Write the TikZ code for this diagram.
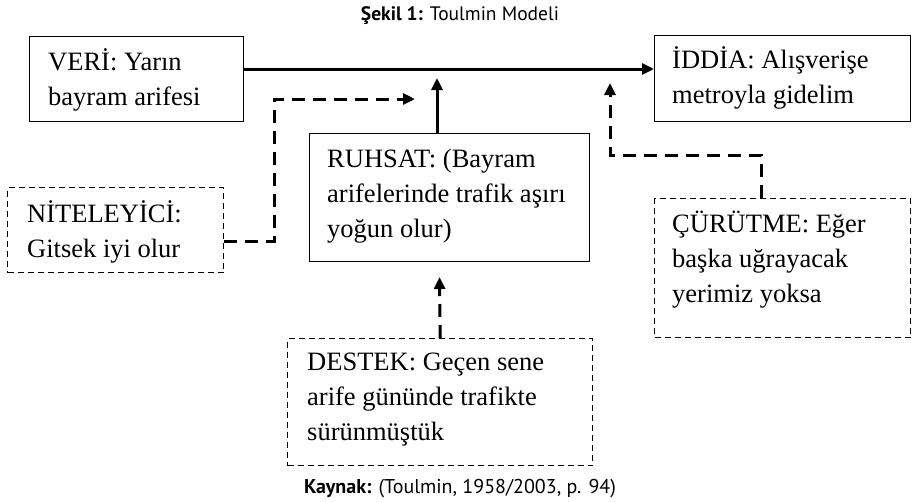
\documentclass[tikz,border=0pt]{standalone}
\usepackage{fontspec}
\setmainfont{Liberation Serif}
\newfontfamily\capfont{PT Sans}
\usetikzlibrary{arrows.meta}
\begin{document}
\begin{tikzpicture}[x=1pt,y=-1pt,
  box/.style={draw, line width=1.4pt, rectangle, inner sep=0pt, anchor=north west},
  dbox/.style={box, line width=1.3pt, dash pattern=on 6pt off 4pt},
  txt/.style={anchor=base west, inner sep=0pt, font=\fontsize{26.5}{35}\selectfont},
  tip/.style={-{Triangle[length=12pt,width=11pt]}},
  solidarrow/.style={line width=3pt, tip},
  dasharrow/.style={line width=3pt, dash pattern=on 13pt off 8pt, tip},
  captext/.style={inner sep=0pt, anchor=base, font=\capfont}
]
\useasboundingbox (0,0) rectangle (912,501);

% title and source
\node[captext, font=\capfont\fontsize{19.5}{23}\selectfont] (title) at (460,20) {\textbf{Şekil 1:} Toulmin Modeli};
\node[captext, font=\capfont\fontsize{20}{24}\selectfont] (source) at (460,493) {\textbf{Kaynak:} (Toulmin, 1958/2003, p. 94)};

% boxes
\node[box,  minimum width=214pt, minimum height=85pt]  (veri)   at (29,36)  {};
\node[box,  minimum width=256pt, minimum height=86pt]  (iddia)  at (654,35) {};
\node[box,  minimum width=280pt, minimum height=128pt] (ruhsat) at (309,133) {};
\node[dbox, minimum width=216pt, minimum height=85pt]  (nit)    at (7,187)  {};
\node[dbox, minimum width=256pt, minimum height=139pt] (curr)   at (654,198) {};
\node[dbox, minimum width=305pt, minimum height=127pt] (destek) at (287,338) {};

% texts
\node[txt] (tveri)   at ([shift={(19,34)}]veri.north west)   {\vtop{\hbox{VERİ: Yarın}\hbox{bayram arifesi}}};
\node[txt] (tiddia)  at ([shift={(18,33)}]iddia.north west)  {\vtop{\hbox{İDDİA: Alışverişe}\hbox{metroyla gidelim}}};
\node[txt] (truhsat) at ([shift={(18,34)}]ruhsat.north west) {\vtop{\hbox{RUHSAT: (Bayram}\hbox{arifelerinde trafik aşırı}\hbox{yoğun olur)}}};
\node[txt] (tnit)    at ([shift={(20,35)}]nit.north west)    {\vtop{\hbox{NİTELEYİCİ:}\hbox{Gitsek iyi olur}}};
\node[txt] (tcurr)   at ([shift={(18,34)}]curr.north west)   {\vtop{\hbox{ÇÜRÜTME: Eğer}\hbox{başka uğrayacak}\hbox{yerimiz yoksa}}};
\node[txt] (tdestek) at ([shift={(20,32)}]destek.north west) {\vtop{\hbox{DESTEK: Geçen sene}\hbox{arife gününde trafikte}\hbox{sürünmüştük}}};

% connector coordinates
\coordinate (main) at (437,69);
\coordinate (wtip) at (437,78);
\coordinate (qbend) at (274,99);
\coordinate (qtip) at (415,99);
\coordinate (rbend) at (761,155);
\coordinate (rtip) at (610,83);
\coordinate (btip) at (439.5,277);

% connectors
\draw[solidarrow] (veri.east |- main) -- (iddia.west |- main);
\draw[solidarrow] (wtip |- ruhsat.north) -- (wtip);
\draw[dasharrow] ([yshift=-11.5pt]nit.east) -| (qbend) -- (qtip);
\draw[dasharrow] (rbend |- curr.north) -- (rbend) -| (rtip);
\draw[dasharrow] (destek.north) -- (btip);
\end{tikzpicture}
\end{document}
